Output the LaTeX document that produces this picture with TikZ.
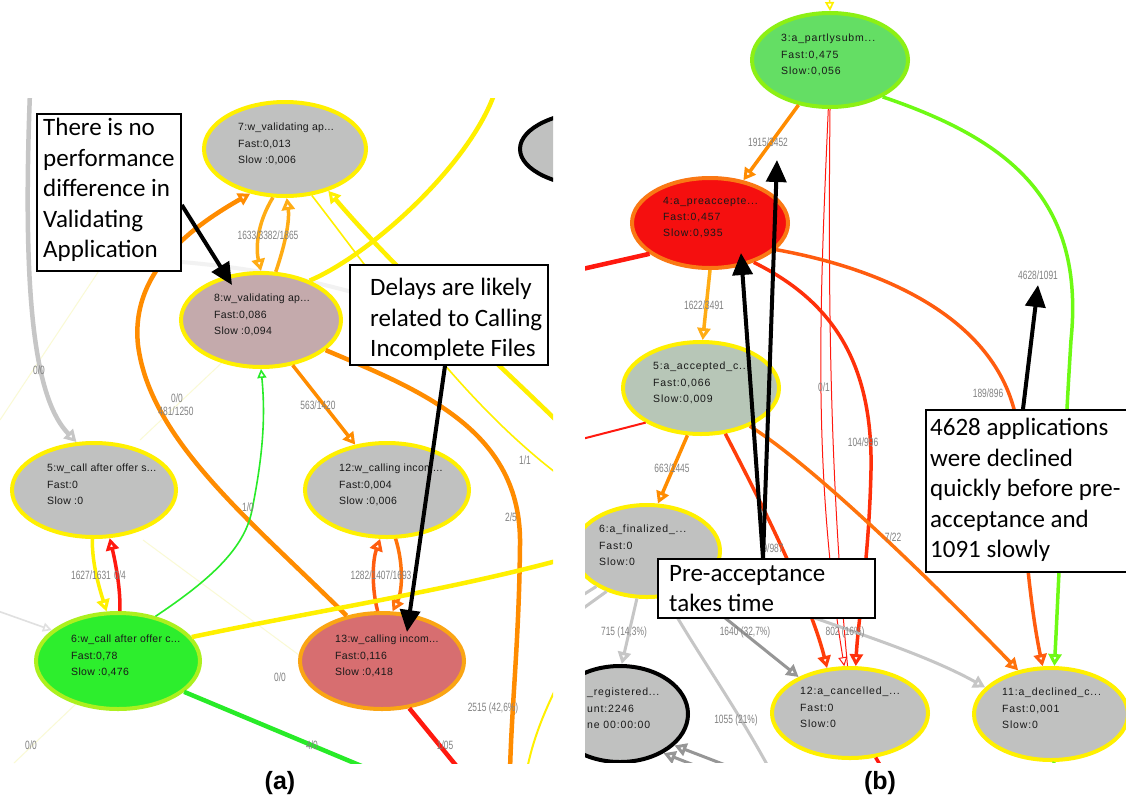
\documentclass[tikz,border=0pt]{standalone}
\usepackage{fontspec}
\setmainfont{Liberation Sans}
\newfontfamily\nfA[LetterSpace=3]{Liberation Sans}
\newfontfamily\nfB[LetterSpace=8]{Liberation Sans}
\newfontfamily\lblfam[FakeStretch=0.7]{Liberation Sans}
\newfontfamily\callfam{Carlito}
\usetikzlibrary{shapes.geometric,arrows.meta,calc}

\definecolor{cyel}{RGB}{255,240,0}
\definecolor{corg}{RGB}{255,140,0}
\definecolor{corgtwo}{RGB}{255,115,12}
\definecolor{clorg}{RGB}{255,172,20}
\definecolor{cred}{RGB}{255,25,15}
\definecolor{credtwo}{RGB}{255,48,10}
\definecolor{credthree}{RGB}{255,62,10}
\definecolor{cored}{RGB}{255,92,15}
\definecolor{cgreen}{RGB}{40,235,40}
\definecolor{clime}{RGB}{110,250,20}
\definecolor{cgray}{RGB}{198,198,198}
\definecolor{cdgray}{RGB}{150,150,150}
\definecolor{lblgray}{RGB}{130,130,130}
\definecolor{cfaint}{RGB}{250,250,212}
\definecolor{ngray}{RGB}{192,193,192}
\definecolor{nmauve}{RGB}{196,170,172}
\definecolor{ngreen}{RGB}{45,238,45}
\definecolor{ngreenrim}{RGB}{172,240,30}
\definecolor{nrose}{RGB}{215,110,112}
\definecolor{nroserim}{RGB}{250,165,20}
\definecolor{nlgreen}{RGB}{100,222,100}
\definecolor{nlgreenrim}{RGB}{140,240,20}
\definecolor{nred}{RGB}{245,15,15}
\definecolor{nredrim}{RGB}{250,120,20}
\definecolor{nsage}{RGB}{183,198,183}
\definecolor{ntxt}{RGB}{25,25,25}

\tikzset{
  stnode/.style={ellipse, inner sep=0pt, line width=4pt},
  ntA/.style={font=\nfA\fontsize{10.5}{16.2}\selectfont, align=left, anchor=north west, inner sep=0pt, text=ntxt},
  ntB/.style={font=\nfB\fontsize{10.5}{16.2}\selectfont, align=left, anchor=north west, inner sep=0pt, text=ntxt},
  elab/.style={font=\lblfam\fontsize{12}{12}\selectfont, text=lblgray, inner sep=0pt},
  callbox/.style={draw=black, line width=1.8pt, fill=white, inner sep=0pt, anchor=north west},
  calltext/.style={font=\callfam\fontsize{25}{30.5}\selectfont, align=left, anchor=north west, inner sep=0pt},
  callarrow/.style={draw=black, line width=4pt, -{Triangle[length=22pt,width=20pt]}},
  wfive/.style={line width=4.5pt},
  wfour/.style={line width=3.5pt},
  wtwo/.style={line width=1.6pt},
  wone/.style={line width=1pt},
  ohead/.style={-{Triangle[open,length=12pt,width=13pt]}},
  oheadsm/.style={-{Triangle[open,length=9pt,width=9pt]}},
  panellabel/.style={font=\bfseries\fontsize{25}{25}\selectfont},
}

\begin{document}
\begin{tikzpicture}[x=1pt,y=-1pt]
\fill[white] (0,0) rectangle (1126,801);
\useasboundingbox (0,0) rectangle (1126,801);

% ---------------- left graph: work items ----------------
\begin{scope}
\clip (0,98) rectangle (553,763);

% faint background connectors
\draw[cfaint, wone] (0,420) -- (122,236);
\draw[cfaint, wone] (140,440) -- (230,355);
\draw[cfaint, wone] (14,763) -- (80,700);
\draw[cfaint, wone] (143,540) -- (360,700);
\draw[black!5, line width=4pt] (182,262) .. controls (250,268) and (300,278) .. (352,292);

% activity nodes
\node[stnode, draw=cyel, fill=ngray, minimum width=162pt, minimum height=94pt] (a7) at (285,149) {};
\node[stnode, draw=cyel, fill=nmauve, minimum width=160pt, minimum height=94pt] (a8) at (261,320) {};
\node[stnode, draw=cyel, fill=ngray, minimum width=164pt, minimum height=94pt] (a5) at (94,490) {};
\node[stnode, draw=cyel, fill=ngray, minimum width=164pt, minimum height=94pt] (a12) at (387,490) {};
\node[stnode, draw=ngreenrim, fill=ngreen, minimum width=164pt, minimum height=96pt] (a6) at (118,661) {};
\node[stnode, draw=nroserim, fill=nrose, minimum width=164pt, minimum height=96pt] (a13) at (382,661) {};
\node[stnode, draw=black, fill=ngray, minimum width=160pt, minimum height=76pt] (aK) at (600,149) {};

\node[ntA] (a7t) at (238,123) {7:w\_validating ap...\\Fast:0,013\\Slow :0,006};
\node[ntA] (a8t) at (214,294) {8:w\_validating ap...\\Fast:0,086\\Slow :0,094};
\node[ntA] (a5t) at (47,464) {5:w\_call after offer s...\\Fast:0\\Slow :0};
\node[ntA] (a12t) at (339,464) {12:w\_calling incom...\\Fast:0,004\\Slow :0,006};
\node[ntA] (a6t) at (71,635) {6:w\_call after offer c...\\Fast:0,78\\Slow :0,476};
\node[ntA] (a13t) at (335,635) {13:w\_calling incom...\\Fast:0,116\\Slow :0,418};

% free ends of connectors leaving the view
\coordinate (ga) at (30,92);
\coordinate (ya) at (495,92);
\coordinate (yb) at (560,424);
\coordinate (yc) at (560,476);
\coordinate (yd) at (560,560);
\coordinate (oc) at (510,770);
\coordinate (ge) at (395,780);
\coordinate (rf) at (472,785);
\coordinate (lga) at (-5,610);
\coordinate (ye) at (560,680);
\coordinate (yf) at (526,775);

% connectors
\draw[cgray, wfive, ohead] (ga) .. controls (22,300) and (35,400) .. (a5.110);
\draw[corg, wfive, ohead] (a13.128) .. controls (250,520) and (150,440) .. (138,345)
      .. controls (130,270) and (195,225) .. (a7.232);
\draw[clorg, wfour, ohead] (a7.256) .. controls (256,225) and (256,250) .. (a8.90);
\draw[clorg, wfour, ohead] (a8.73) .. controls (284,248) and (290,222) .. (a7.272);
\draw[cyel, wfive] (a8.39) .. controls (370,255) and (470,165) .. (ya);
\draw[cyel, wfive, ohead] (yb) .. controls (500,365) and (400,275) .. (a7.316);
\draw[cyel, wtwo] (a7.300) .. controls (385,290) and (460,400) .. (yc);
\draw[corg, wfour, ohead] (a8.305) -- (a12.125);
\draw[corg, wfive] (a8.335) .. controls (420,390) and (522,430) .. (520,545)
      .. controls (519,640) and (512,700) .. (oc);
\draw[cyel, wfour, ohead] (a5.268) .. controls (92,565) and (100,590) .. (a6.103);
\draw[cred, wfour, ohead] (a6.88) .. controls (121,590) and (115,560) .. (a5.288);
\draw[cgreen, wtwo, oheadsm] (a6.50) .. controls (210,580) and (245,548) .. (252,510)
      .. controls (262,460) and (266,420) .. (a8.270);
\draw[cored, wfour, ohead] (a13.95) .. controls (372,590) and (372,562) .. (a12.262);
\draw[corgtwo, wfour, ohead] (a12.280) .. controls (403,562) and (403,590) .. (a13.78);
\draw[cyel, wfive] (a6.18) .. controls (300,614) and (450,590) .. (yd);
\draw[cgreen, wfive] (a6.335) -- (ge);
\draw[cred, wfive] (a13.300) -- (rf);
\draw[black!12, wtwo, oheadsm] (lga) -- (a6.155);
\draw[cyel, line width=2pt] (ye) .. controls (545,710) and (532,740) .. (yf);

% connector labels
\node[elab] at (39,370) {0/0};
\node[elab] at (176,411) {481/1250};
\node[elab] at (177,398) {0/0};
\node[elab] at (91,575) {1627/1631};
\node[elab] at (120,575) {0/4};
\node[elab] at (268,235) {1633/3382/1865};
\node[elab] at (318,405) {563/1420};
\node[elab] at (525,460) {1/1};
\node[elab] at (511,517) {2/5};
\node[elab] at (248,507) {1/0};
\node[elab] at (381,575) {1282/1407/1693};
\node[elab] at (280,677) {0/0};
\node[elab] at (493,708) {2515 (42,6\%)};
\node[elab] at (31,745) {0/0};
\node[elab] at (312,745) {4/0};
\node[elab] at (445,745) {1/05};

% annotations
\node[callbox, minimum width=144pt, minimum height=157pt] (box1) at (36,113) {};
\node[calltext] (box1t) at (43,118) {There is no\\performance\\difference in\\Validating\\Application};
\node[callbox, minimum width=198pt, minimum height=100pt] (box2) at (349,264) {};
\node[calltext] (box2t) at (370,278) {Delays are likely\\related to Calling\\Incomplete Files};
\coordinate (t1) at (232,285);
\coordinate (t2) at (407,632);
\draw[callarrow] ($(box1.north east)+(0,92)$) -- (t1);
\draw[callarrow] ($(box2.south west)+(96,0)$) -- (t2);
\end{scope}

% ---------------- right graph: application states ----------------
\begin{scope}
\clip (585,0) rectangle (1126,762);

\node[stnode, draw=nlgreenrim, fill=nlgreen, minimum width=156pt, minimum height=94pt] (b3) at (830,60) {};
\node[stnode, draw=nredrim, fill=nred, minimum width=156pt, minimum height=90pt] (b4) at (710,223) {};
\node[stnode, draw=cyel, fill=nsage, minimum width=156pt, minimum height=92pt] (b5) at (701,388) {};
\node[stnode, draw=cyel, fill=ngray, minimum width=146pt, minimum height=92pt] (b6) at (647,551) {};
\node[stnode, draw=black, line width=4pt, fill=ngray, minimum width=136pt, minimum height=96pt] (breg) at (620,714) {};
\node[stnode, draw=cyel, fill=ngray, minimum width=156pt, minimum height=90pt] (b12) at (850,713) {};
\node[stnode, draw=cyel, fill=ngray, minimum width=154pt, minimum height=92pt] (b11) at (1051,714) {};

\node[ntB] (b3t) at (781,34) {3:a\_partlysubm...\\Fast:0,475\\Slow:0,056};
\node[ntB] (b4t) at (663,197) {4:a\_preaccepte...\\Fast:0,457\\Slow:0,935};
\node[ntB] (b5t) at (653,362) {5:a\_accepted\_c...\\Fast:0,066\\Slow:0,009};
\node[ntB] (b6t) at (599,525) {6:a\_finalized\_...\\Fast:0\\Slow:0};
\node[ntB] (bregt) at (587,688) {\_registered...\\unt:2246\\ne 00:00:00};
\node[ntB] (b12t) at (800,687) {12:a\_cancelled\_...\\Fast:0\\Slow:0};
\node[ntB] (b11t) at (1002,688) {11:a\_declined\_c...\\Fast:0,001\\Slow:0};

\coordinate (ytop) at (829,-14);
\coordinate (rl) at (578,270);
\coordinate (rl2) at (578,440);
\coordinate (gc) at (770,770);
\coordinate (gd1) at (712,772);
\coordinate (gd2) at (728,766);
\coordinate (rb) at (886,775);
\coordinate (gb) at (1049,775);
\coordinate (gl1) at (578,598);
\coordinate (gl2) at (578,612);

\draw[cyel, wtwo, oheadsm] (ytop) -- (b3.90);
\draw[corg, wfour, ohead] (b3.235) -- (b4.52);
\draw[cred, wone, oheadsm] (b3.268) .. controls (820,300) and (812,470) .. (b12.97);
\draw[cred, wone] (b3.270) .. controls (828,300) and (830,480) .. (b12.93);
\draw[credtwo, wfour, ohead] (b4.318) .. controls (830,300) and (873,360) .. (871,470)
      .. controls (869,560) and (858,620) .. (b12.83);
\draw[cored, wfour, ohead] (b4.338) .. controls (900,272) and (1012,330) .. (1019,440)
      .. controls (1024,550) and (1032,615) .. (b11.100);
\draw[clime, wfour, ohead] (b3.325) .. controls (1010,140) and (1085,200) .. (1071,340)
      .. controls (1064,450) and (1058,600) .. (b11.86);
\draw[cred, wfive] (b4.207) -- (rl);
\draw[clorg, wfour, ohead] (b4.270) -- (b5.88);
\draw[cred, line width=2pt] (b5.212) -- (rl2);
\draw[corg, wfour, ohead] (b5.254) -- (b6.77);
\draw[credthree, wfour, ohead] (b5.298) .. controls (760,500) and (810,600) .. (b12.117);
\draw[corgtwo, wfour, ohead] (b5.322) .. controls (820,470) and (950,600) .. (b11.127);
\draw[cgray, line width=3pt, ohead] (b6.258) -- (breg.88);
\draw[cgray, line width=3pt] (b6.292) .. controls (695,650) and (735,705) .. (gc);
\draw[cdgray, line width=3pt, ohead] (b6.318) -- (b12.145);
\draw[cgray, line width=3pt, ohead] (b6.340) .. controls (770,610) and (900,640) .. (b11.158);
\draw[cdgray, line width=3pt, ohead] (gd1) -- (breg.318);
\draw[cdgray, line width=3pt, ohead] (gd2) -- (breg.330);
\draw[cgray, line width=3pt] (b6.215) -- (gl1);
\draw[cgray, line width=3pt] (b6.225) -- (gl2);
\draw[cred, wfour] (b12.300) -- (rb);
\draw[clime, wfour] (b11.274) -- (gb);

\node[elab] at (768,142) {1915/3452};
\node[elab] at (704,305) {1622/3491};
\node[elab] at (824,387) {0/1};
\node[elab] at (863,442) {104/996};
\node[elab] at (988,393) {189/896};
\node[elab] at (1038,275) {4628/1091};
\node[elab] at (672,468) {663/1445};
\node[elab] at (773,548) {9/987};
\node[elab] at (893,537) {7/22};
\node[elab] at (624,632) {715 (14,3\%)};
\node[elab] at (745,632) {1640 (32,7\%)};
\node[elab] at (845,632) {802 (16\%)};
\node[elab] at (736,720) {1055 (21\%)};

\node[callbox, minimum width=217pt, minimum height=59pt] (box3) at (657,558) {};
\node[calltext] (box3t) at (669,565) {Pre-acceptance\\takes time};
\node[callbox, minimum width=215pt, minimum height=162pt] (box4) at (925,409) {};
\node[calltext] (box4t) at (930,418) {4628 applications\\were declined\\quickly before pre-\\acceptance and\\1091 slowly};
\coordinate (t3) at (777,160);
\coordinate (t4) at (741,253);
\coordinate (t5) at (1038,285);
\draw[callarrow] ($(box3.north west)+(106,0)$) -- (t3);
\draw[callarrow] ($(box3.north west)+(106,0)$) -- (t4);
\draw[callarrow] ($(box4.north west)+(98,0)$) -- (t5);
\end{scope}

\node[panellabel] (pa) at (280,783) {(a)};
\node[panellabel] (pb) at (880,783) {(b)};
\end{tikzpicture}
\end{document}
